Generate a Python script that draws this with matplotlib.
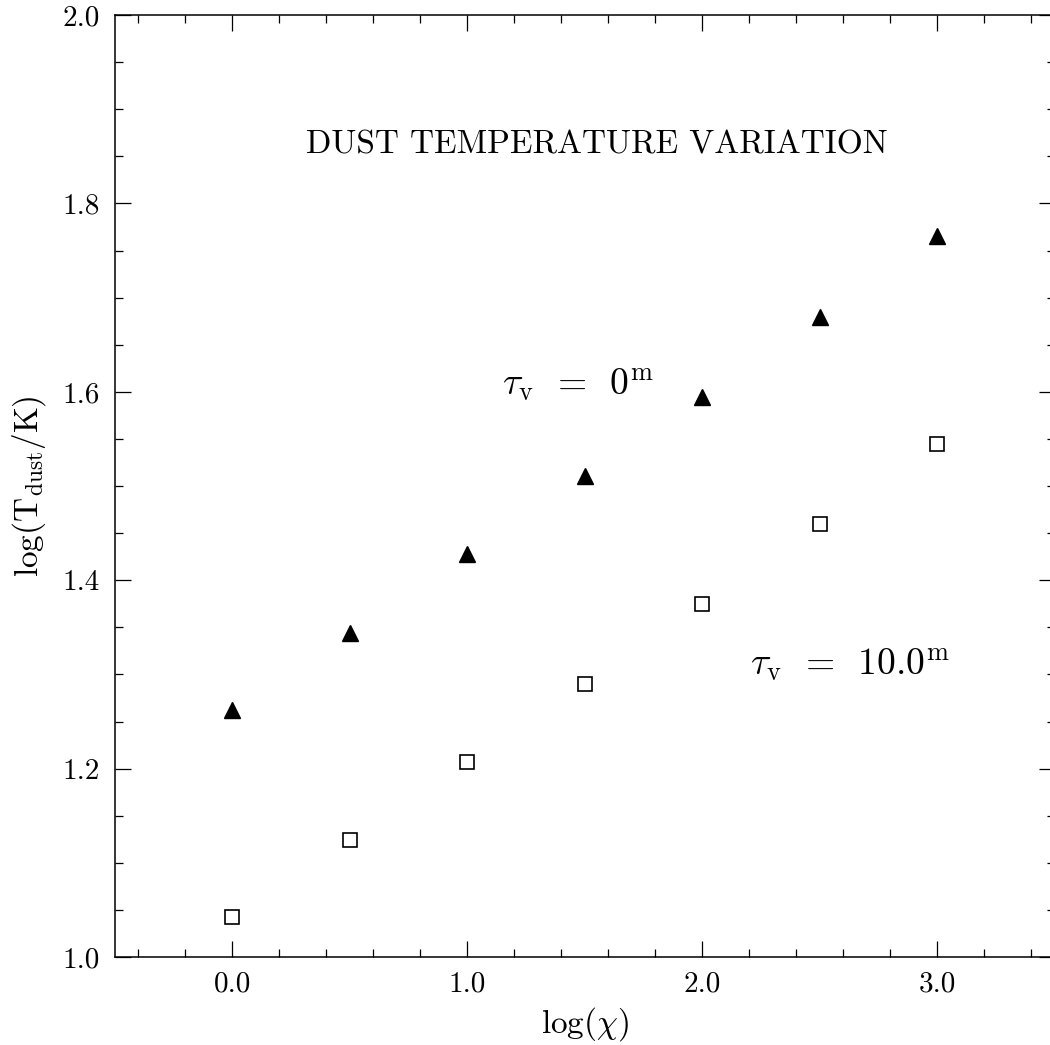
import numpy as np
import matplotlib.pyplot as plt
from matplotlib.ticker import MultipleLocator, FormatStrFormatter

plt.rcParams['font.family'] = 'cmr10'
plt.rcParams['mathtext.fontset'] = 'cm'
plt.rcParams['axes.formatter.use_mathtext'] = True

# log(chi) grid and dust temperatures for the two extinctions
log_chi = [0.0, 0.5, 1.0, 1.5, 2.0, 2.5, 3.0]
log_tdust_tau0 = [1.262, 1.344, 1.428, 1.511, 1.595, 1.679, 1.765]
log_tdust_tau10 = [1.042, 1.124, 1.207, 1.290, 1.375, 1.460, 1.545]

fig = plt.figure(figsize=(10.5, 10.45), dpi=100)
ax = fig.add_axes([0.1095, 0.0842, 0.895, 0.9014])

ax.plot(log_chi, log_tdust_tau0, linestyle='none', marker='^', ms=11,
        color='black')
ax.plot(log_chi, log_tdust_tau10, linestyle='none', marker='s', ms=9.5,
        mfc='white', mec='black', mew=1.2)

ax.set_xlim(-0.5, 3.5)
ax.set_ylim(1.0, 2.0)

ax.xaxis.set_major_locator(MultipleLocator(1.0))
ax.xaxis.set_minor_locator(MultipleLocator(0.2))
ax.yaxis.set_major_locator(MultipleLocator(0.2))
ax.yaxis.set_minor_locator(MultipleLocator(0.05))
ax.xaxis.set_major_formatter(FormatStrFormatter('%.1f'))
ax.yaxis.set_major_formatter(FormatStrFormatter('%.1f'))

ax.tick_params(which='both', direction='in', top=True, right=True,
               labelsize=21, width=0.9)
ax.tick_params(which='major', length=11.5)
ax.tick_params(which='minor', length=5.8)
ax.tick_params(axis='x', pad=10)
ax.tick_params(axis='y', pad=11)
for sp in ax.spines.values():
    sp.set_linewidth(1.1)

ax.set_xlabel(r'$\log(\chi)$', fontsize=24, labelpad=6)
ax.set_ylabel(r'$\log(\mathrm{T_{dust}/K})$', fontsize=24, labelpad=10)

ax.text(1.55, 1.862, 'DUST TEMPERATURE VARIATION', fontsize=24,
        ha='center', va='center')
ax.text(1.149, 1.608, r'$\tau_{\rm v}\ \,=\ \,0^{\rm m}$', fontsize=27,
        ha='left', va='center')
ax.text(2.204, 1.310, r'$\tau_{\rm v}\ \,=\ \,10.0^{\rm m}$', fontsize=27,
        ha='left', va='center')

fig.savefig('out.png', dpi=100)
